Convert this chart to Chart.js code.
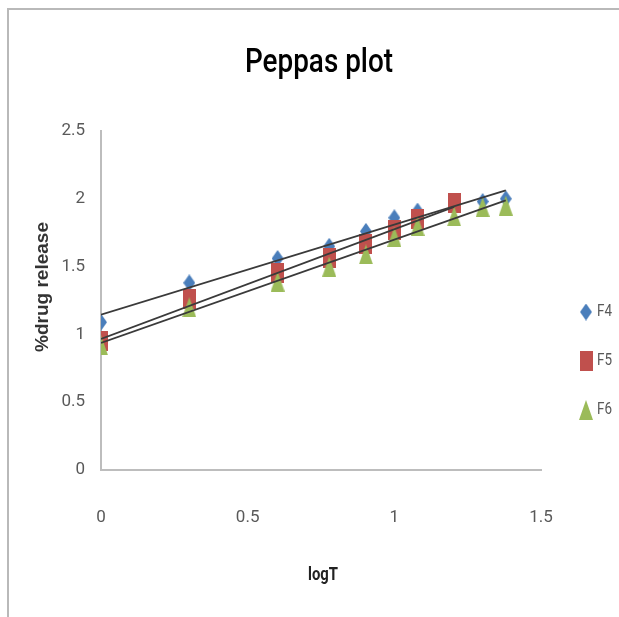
<!DOCTYPE html>
<html>
<head>
<meta charset="utf-8">
<script src="https://cdn.jsdelivr.net/npm/chart.js@4/dist/chart.umd.min.js"></script>
<style>
  html, body { margin: 0; padding: 0; background: #ffffff; }
  #wrap { width: 619px; height: 617px; }
</style>
</head>
<body>
<div id="wrap"><canvas id="chart" width="619" height="617"></canvas></div>
<script>
// log of sampling time (h): 1, 2, 4, 6, 8, 10, 12, 16, 20, 24
const logT = [0, 0.301, 0.602, 0.778, 0.903, 1.0, 1.079, 1.204, 1.301, 1.380];
// log cumulative % drug release per formulation
const f4 = [1.09, 1.38, 1.56, 1.65, 1.76, 1.86, 1.91, 1.95, 1.98, 2.00];
const f5 = [0.95, 1.26, 1.45, 1.56, 1.67, 1.77, 1.85, 1.97];
const f6 = [0.92, 1.20, 1.39, 1.50, 1.59, 1.72, 1.80, 1.87, 1.94, 1.95];
const seriesNames = ['F4', 'F5', 'F6'];
const xTicks = [0, 0.5, 1, 1.5];
const yTicks = [0, 0.5, 1, 1.5, 2, 2.5];

const FONT = 'Roboto, "Liberation Sans", sans-serif';

function pairs(xs, ys) {
  return ys.map((y, i) => ({ x: xs[i], y: y }));
}

// least-squares straight line through a series, spanning its x range
function trendLine(xs, ys) {
  const n = ys.length;
  const x = xs.slice(0, n);
  const mx = x.reduce((s, v) => s + v, 0) / n;
  const my = ys.reduce((s, v) => s + v, 0) / n;
  let sxy = 0, sxx = 0;
  for (let i = 0; i < n; i++) {
    sxy += (x[i] - mx) * (ys[i] - my);
    sxx += (x[i] - mx) * (x[i] - mx);
  }
  const b = sxy / sxx;
  const a = my - b * mx;
  return [{ x: x[0], y: a + b * x[0] }, { x: x[n - 1], y: a + b * x[n - 1] }];
}

// marker sprites (slightly taller than wide)
function marker(shape, color, w, h) {
  const c = document.createElement('canvas');
  c.width = w; c.height = h;
  const g = c.getContext('2d');
  g.fillStyle = color;
  g.beginPath();
  if (shape === 'diamond') {
    g.moveTo(w / 2, 0); g.lineTo(w, h / 2); g.lineTo(w / 2, h); g.lineTo(0, h / 2);
  } else if (shape === 'square') {
    g.rect(0, 0, w, h);
  } else {
    g.moveTo(w / 2, 0); g.lineTo(w, h); g.lineTo(0, h);
  }
  g.closePath();
  g.fill();
  return c;
}

const diamond = marker('diamond', '#4a7ebb', 12, 17);
const square = marker('square', '#c0504d', 13, 20);
const triangle = marker('triangle', '#9bbb59', 14, 20);

function trendSet(data) {
  return {
    type: 'line', isTrend: true, data: data, order: 0,
    borderColor: '#3a3a3a', borderWidth: 1.8, pointRadius: 0, fill: false, tension: 0
  };
}

// condensed text: squeeze horizontally to a given width
function squeezed(ctx, text, x, y, font, width, align) {
  ctx.save();
  ctx.font = font;
  const w = ctx.measureText(text).width;
  const sx = width / w;
  ctx.translate(x, y);
  ctx.scale(sx, 1);
  ctx.textAlign = align || 'center';
  ctx.textBaseline = 'middle';
  ctx.fillText(text, 0, 0);
  ctx.restore();
}

const frame = {
  id: 'frame',
  beforeDraw(chart) {
    const ctx = chart.ctx;
    ctx.save();
    ctx.strokeStyle = '#b9b9b9';
    ctx.lineWidth = 2;
    ctx.beginPath();
    ctx.moveTo(8, 617); ctx.lineTo(8, 9); ctx.lineTo(619, 9);
    ctx.stroke();
    ctx.restore();
  },
  afterDraw(chart) {
    const ctx = chart.ctx;
    ctx.save();
    ctx.fillStyle = '#000000';
    squeezed(ctx, 'Peppas plot', 319, 64, '500 33px ' + FONT, 148);
    ctx.fillStyle = '#222222';
    squeezed(ctx, 'logT', 323, 575, 'bold 19px ' + FONT, 30);
    // y-axis title
    ctx.save();
    ctx.translate(43, 287);
    ctx.rotate(-Math.PI / 2);
    ctx.textAlign = 'center';
    ctx.textBaseline = 'middle';
    ctx.font = 'bold 19px "Liberation Sans", Arial, sans-serif';
    ctx.fillStyle = '#333333';
    ctx.fillText('%drug release', 0, 0);
    ctx.restore();
    // legend
    const rows = chart.data.datasets.filter(d => !d.isTrend)
      .sort((a, b) => seriesNames.indexOf(a.label) - seriesNames.indexOf(b.label));
    ctx.fillStyle = '#595959';
    rows.forEach((d, i) => {
      const y = 312 + i * 49;
      const img = d.pointStyle;
      ctx.drawImage(img, 586 - img.width / 2, y - img.height / 2);
      squeezed(ctx, d.label, 597, y, '16px ' + FONT, 15, 'left');
    });
    ctx.restore();
  }
};

new Chart(document.getElementById('chart'), {
  type: 'scatter',
  data: {
    datasets: [
      trendSet(trendLine(logT, f4)),
      trendSet(trendLine(logT, f5)),
      trendSet(trendLine(logT, f6)),
      { label: seriesNames[2], data: pairs(logT, f6), pointStyle: triangle, order: 1 },
      { label: seriesNames[1], data: pairs(logT, f5), pointStyle: square, order: 2 },
      { label: seriesNames[0], data: pairs(logT, f4), pointStyle: diamond, order: 3 }
    ]
  },
  options: {
    responsive: false,
    animation: false,
    layout: { padding: { left: 0, top: 131, right: 78, bottom: 0 } },
    plugins: { legend: { display: false }, title: { display: false }, tooltip: { enabled: false } },
    scales: {
      x: {
        type: 'linear', min: 0, max: 1.5,
        afterBuildTicks: s => { s.ticks = xTicks.map(v => ({ value: v })); },
        afterFit: s => { s.height = 147; },
        grid: { display: false, drawTicks: false },
        border: { display: true, color: '#bdbdbd', width: 2 },
        ticks: { font: { family: FONT, size: 17 }, color: '#595959', padding: 38, maxRotation: 0,
                 callback: v => String(v) }
      },
      y: {
        type: 'linear', min: 0, max: 2.5,
        afterBuildTicks: s => { s.ticks = yTicks.map(v => ({ value: v })); },
        afterFit: s => { s.width = 101; },
        grid: { display: false, drawTicks: false },
        border: { display: true, color: '#bdbdbd', width: 2 },
        ticks: { font: { family: FONT, size: 17 }, color: '#595959', padding: 16,
                 callback: v => String(v) }
      }
    }
  },
  plugins: [frame]
});
</script>
</body>
</html>
